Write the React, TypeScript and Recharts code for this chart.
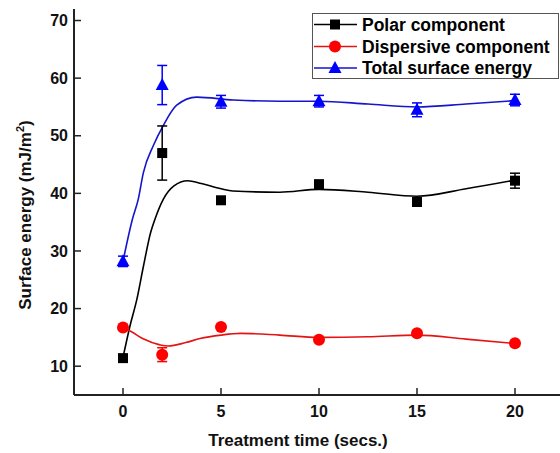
import React from 'react';
import { ComposedChart, Line, Scatter, XAxis, YAxis, ErrorBar } from 'recharts';

// Measured points (treatment time, value, error)
const times = [0, 2, 5, 10, 15, 20];
const polarValues = [11.4, 47.0, 38.8, 41.6, 38.5, 42.2];
const polarErrors = [0.4, 4.7, 0.4, 0.4, 0.6, 1.3];
const dispersiveValues = [16.7, 12.0, 16.8, 14.6, 15.7, 14.0];
const dispersiveErrors = [0.3, 1.2, 0.3, 0.3, 0.3, 0.3];
const totalValues = [28.2, 58.8, 55.9, 56.0, 54.5, 56.2];
const totalErrors = [0.9, 3.4, 1.1, 1.0, 1.2, 1.0];

// Fitted smooth curves
const polarCurveX = [0, 0.35, 0.7, 1.04, 1.41, 1.63, 2.06, 2.6, 3.3, 4, 5, 5.6, 8, 10, 12.5, 15, 17.5, 20];
const polarCurveY = [11.5, 16.9, 21.5, 27.3, 33.2, 35.5, 39, 41.3, 42.2, 41.7, 40.8, 40.4, 40.2, 40.7, 40.2, 39.5, 40.8, 42.3];
const dispCurveX = [0, 0.27, 1, 1.89, 2.3, 3.2, 3.93, 5, 6, 8, 10, 12.5, 15, 17.5, 20];
const dispCurveY = [16.6, 16.3, 14.8, 13.7, 13.5, 14.1, 14.8, 15.4, 15.7, 15.4, 15.0, 15.1, 15.4, 14.7, 13.95];
const totalCurveX = [0, 0.48, 0.78, 1.04, 1.55, 2.06, 2.74, 3.76, 5.63, 8, 10, 12.5, 15, 17.5, 20];
const totalCurveY = [28.2, 35.5, 39, 43.6, 48.3, 51.8, 55.3, 56.7, 56.2, 56, 56, 55.5, 55, 55.5, 56.1];

const xTicks = [0, 5, 10, 15, 20];
const yTicks = [10, 20, 30, 40, 50, 60, 70];

const seriesNames = ['Polar component', 'Dispersive component', 'Total surface energy'];
const markerColors = ['#000000', '#ff0000', '#0000ff'];
const curveColors = ['#000000', '#e31414', '#1515cc'];

const pts = (vals: number[], errs: number[]) => times.map((t, i) => ({ x: t, y: vals[i], e: errs[i] }));
const curve = (xs: number[], ys: number[]) => xs.map((x, i) => ({ x, y: ys[i] }));

const polarPts = pts(polarValues, polarErrors);
const dispPts = pts(dispersiveValues, dispersiveErrors);
const totalPts = pts(totalValues, totalErrors);

const FONT = 'Liberation Sans, Arial, sans-serif';

const Square = (p: any) => <rect x={p.cx - 5} y={p.cy - 5} width={10} height={10} fill={markerColors[0]} />;
const Dot = (p: any) => <circle cx={p.cx} cy={p.cy} r={6} fill={markerColors[1]} />;
const Tri = (p: any) => (
  <polygon points={`${p.cx},${p.cy - 7} ${p.cx - 6.5},${p.cy + 5} ${p.cx + 6.5},${p.cy + 5}`} fill={markerColors[2]} />
);
const Empty = () => <g />;

const LegendBox = () => {
  const rows = [24.5, 46.5, 68];
  return (
    <svg width={247} height={66} style={{ display: 'block' }}>
      <rect x={0.5} y={0.5} width={246} height={65} fill="#fff" stroke="#555" strokeWidth={1} />
      {seriesNames.map((n, i) => {
        const cy = rows[i] - 13;
        return (
          <g key={n}>
            <line x1={2} x2={45} y1={cy} y2={cy} stroke={curveColors[i]} strokeWidth={1.5} />
            {i === 0 && <rect x={18} y={cy - 5} width={10} height={10} fill={markerColors[0]} />}
            {i === 1 && <circle cx={23} cy={cy} r={6} fill={markerColors[1]} />}
            {i === 2 && <polygon points={`23,${cy - 7} 16.5,${cy + 5} 29.5,${cy + 5}`} fill={markerColors[2]} />}
            <text x={50} y={cy + 6} fontFamily={FONT} fontWeight="bold" fontSize={17.5} fill="#000">{n}</text>
          </g>
        );
      })}
    </svg>
  );
};

export default function App() {
  return (
    <div style={{ position: 'absolute', left: 0, top: 0, width: 560, height: 453, overflow: 'hidden', background: '#fff' }}>
      <ComposedChart width={570} height={453} margin={{ top: 9, right: 6, left: 0, bottom: 0 }}>
        <XAxis
          xAxisId="b"
          dataKey="x"
          type="number"
          domain={[-2.5, 22.5]}
          ticks={xTicks}
          allowDataOverflow
          height={58}
          tickSize={-7}
          tickMargin={18}
          axisLine={{ stroke: '#222', strokeWidth: 2 }}
          tickLine={{ stroke: '#222', strokeWidth: 1.5 }}
          tick={{ fill: '#111', fontSize: 16, fontWeight: 'bold', fontFamily: FONT }}
          label={{
            content: () => (
              <text x={298} y={446} textAnchor="middle" fontFamily={FONT} fontWeight="bold" fontSize={17} fill="#111">
                Treatment time (secs.)
              </text>
            ),
          }}
        />
        <XAxis
          xAxisId="t"
          orientation="top"
          dataKey="x"
          type="number"
          domain={[-2.5, 22.5]}
          height={0}
          tick={false}
          tickLine={false}
          axisLine={{ stroke: '#222', strokeWidth: 2 }}
        />
        <YAxis
          yAxisId="l"
          type="number"
          domain={[5, 72]}
          ticks={yTicks}
          allowDataOverflow
          width={74}
          tickSize={-7}
          tickMargin={13}
          axisLine={{ stroke: '#222', strokeWidth: 2 }}
          tickLine={{ stroke: '#222', strokeWidth: 1.5 }}
          tick={{ fill: '#111', fontSize: 16, fontWeight: 'bold', fontFamily: FONT }}
          label={{
            content: () => (
              <text transform="translate(31,215) rotate(-90)" textAnchor="middle" fontFamily={FONT} fontWeight="bold" fontSize={17} fill="#111">
                Surface energy (mJ/m<tspan dy={-7} fontSize={11}>2</tspan><tspan dy={7}>)</tspan>
              </text>
            ),
          }}
        />
        <Line xAxisId="b" yAxisId="l" data={curve(polarCurveX, polarCurveY)} dataKey="y" type="monotone" stroke={curveColors[0]} strokeWidth={1.6} dot={false} isAnimationActive={false} />
        <Line xAxisId="b" yAxisId="l" data={curve(dispCurveX, dispCurveY)} dataKey="y" type="monotone" stroke={curveColors[1]} strokeWidth={1.6} dot={false} isAnimationActive={false} />
        <Line xAxisId="b" yAxisId="l" data={curve(totalCurveX, totalCurveY)} dataKey="y" type="monotone" stroke={curveColors[2]} strokeWidth={1.6} dot={false} isAnimationActive={false} />
        {/* error bars */}
        <Scatter xAxisId="b" yAxisId="l" data={polarPts} dataKey="y" shape={Empty} isAnimationActive={false}>
          <ErrorBar dataKey="e" direction="y" width={5} stroke="#000" strokeWidth={1.5} />
        </Scatter>
        <Scatter xAxisId="b" yAxisId="l" data={dispPts} dataKey="y" shape={Empty} isAnimationActive={false}>
          <ErrorBar dataKey="e" direction="y" width={5} stroke="#ff0000" strokeWidth={1.5} />
        </Scatter>
        <Scatter xAxisId="b" yAxisId="l" data={totalPts} dataKey="y" shape={Empty} isAnimationActive={false}>
          <ErrorBar dataKey="e" direction="y" width={5} stroke="#0000ff" strokeWidth={1.5} />
        </Scatter>
        {/* markers drawn over the error bars */}
        <Scatter xAxisId="b" yAxisId="l" data={polarPts} dataKey="y" shape={Square} isAnimationActive={false} name={seriesNames[0]} />
        <Scatter xAxisId="b" yAxisId="l" data={dispPts} dataKey="y" shape={Dot} isAnimationActive={false} name={seriesNames[1]} />
        <Scatter xAxisId="b" yAxisId="l" data={totalPts} dataKey="y" shape={Tri} isAnimationActive={false} name={seriesNames[2]} />
      </ComposedChart>
      <div style={{ position: 'absolute', left: 312, top: 13, width: 247, height: 66 }}>
        <LegendBox />
      </div>
    </div>
  );
}
